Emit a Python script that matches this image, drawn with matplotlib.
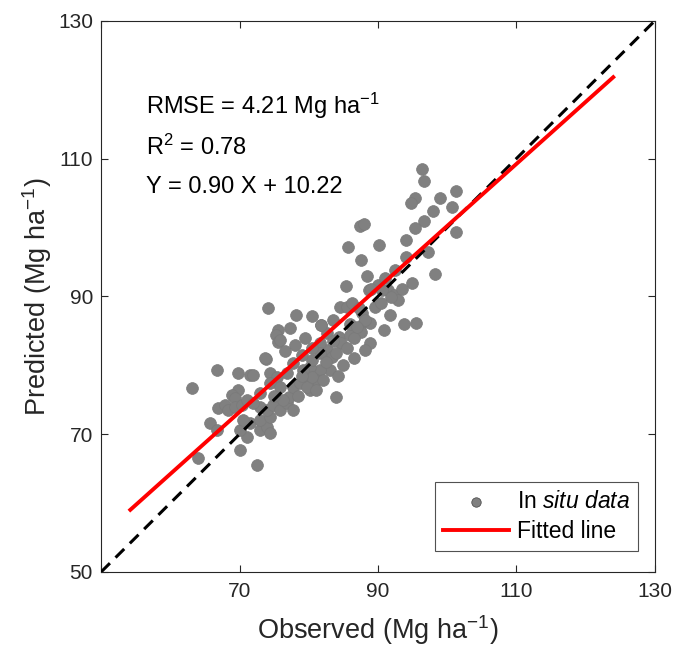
import matplotlib
matplotlib.use("Agg")
import matplotlib.pyplot as plt
import numpy as np

plt.rcParams['font.family'] = ['Liberation Sans', 'DejaVu Sans']
plt.rcParams['mathtext.fontset'] = 'custom'
plt.rcParams['mathtext.rm'] = 'Liberation Sans'
plt.rcParams['mathtext.it'] = 'Liberation Sans:italic'
plt.rcParams['mathtext.bf'] = 'Liberation Sans:bold'

# Observed / predicted values (Mg ha-1)
observed = [
    96.3, 96.6, 101.3, 99.0, 95.4, 94.7, 100.7, 97.9, 101.3, 96.6, 95.4, 87.4, 88.0, 94.0, 90.1, 85.7,
    97.2, 94.0, 87.6, 98.3, 92.5, 88.4, 94.9, 85.4, 90.0, 88.7, 91.4, 92.3, 92.9, 91.9,
    84.5, 85.5, 86.3, 87.3, 87.7, 74.1, 78.2, 80.4, 91.7, 93.7, 95.5, 81.7, 88.0, 88.9, 75.6, 77.3,
    75.3, 87.6, 90.9, 84.4, 85.9,
    83.9, 88.9, 88.1, 84.7, 83.0, 81.6, 80.1, 81.1, 82.0, 79.7, 80.1, 82.6, 83.4, 84.0, 81.6, 82.6, 81.8,
    88.1, 91.0, 90.6,
    63.1, 66.7, 69.7, 71.5, 72.0, 73.8, 75.6, 69.7, 68.9, 69.3, 66.9, 67.9, 68.3, 69.3, 70.3, 65.7,
    66.7, 64.0, 70.0, 72.5, 71.0, 70.0, 71.5, 70.5, 72.9, 73.9, 74.4, 72.9, 74.4, 72.9, 73.9, 74.8,
    75.8, 76.8, 77.7, 77.2, 76.2, 74.4, 75.4, 76.8, 74.4, 75.8, 77.7, 78.7, 79.7, 80.5, 81.1, 79.1,
    77.7, 80.5, 81.6, 75.8, 73.6,
    85.5, 86.5, 85.0, 84.2, 86.0, 83.5, 79.0, 78.0, 76.5, 79.5,
    73.0, 71.0, 72.0, 75.0, 78.5, 79.0, 82.5, 80.5, 83.5, 86.5, 87.0, 89.5, 90.5, 89.0, 93.5,
]
predicted = [
    108.5, 106.7, 105.3, 104.3, 104.3, 103.6, 103.0, 102.4, 99.3, 100.9, 99.9, 100.2, 100.5, 98.2, 97.5, 97.2,
    96.4, 95.7, 95.3, 93.3, 93.8, 93.0, 91.9, 91.5, 91.7, 90.9, 90.9, 90.2, 89.5, 89.9,
    88.5, 88.5, 89.0, 88.3, 87.6, 88.3, 87.3, 87.2, 87.3, 86.0, 86.1, 85.9, 86.3, 86.1, 85.1, 85.4,
    84.4, 84.8, 85.1, 84.1, 84.4,
    75.4, 83.2, 82.2, 83.2, 79.3, 79.3, 79.8, 77.9, 77.9, 77.4, 76.4, 82.2, 81.2, 81.8, 83.2, 84.7, 85.8,
    86.6, 92.7, 90.9,
    76.7, 79.3, 78.9, 78.6, 78.6, 80.9, 83.4, 76.4, 75.7, 75.3, 73.8, 74.2, 73.5, 73.9, 74.2, 71.6,
    70.6, 66.5, 67.7, 65.5, 69.6, 70.6, 71.6, 72.1, 70.6, 71.0, 70.2, 72.1, 72.5, 73.9, 73.5, 74.2,
    73.5, 74.5, 73.5, 75.4, 75.0, 78.9, 78.3, 78.9, 77.4, 76.8, 76.8, 77.4, 76.8, 78.3, 76.4, 79.3,
    80.3, 80.8, 81.8, 83.7, 81.1,
    82.5, 81.0, 80.0, 78.5, 86.0, 86.5, 81.5, 83.0, 82.0, 84.0,
    76.0, 75.0, 74.5, 75.5, 75.5, 78.5, 80.5, 82.5, 83.5, 84.0, 85.5, 88.5, 89.0, 91.0, 91.0,
]

slope = 0.90
intercept = 10.22
fit_x = [54.2, 124.0]
one_to_one = [50, 130]
ticks = [50, 70, 90, 110, 130]
xtick_labels = ['', '70', '90', '110', '130']
ytick_labels = ['50', '70', '90', '110', '130']

fig = plt.figure(figsize=(6.75, 6.52), dpi=100)
ax = fig.add_axes([0.150, 0.123, 0.820, 0.845])

ax.plot(one_to_one, one_to_one, color='black', linestyle=(0, (4, 2.6)), linewidth=2.2, zorder=3)
ax.scatter(observed, predicted, s=72, color='#808080', edgecolors='#7a7a7a', linewidths=0.5,
           zorder=2, label=r'In $\mathit{situ\ data}$')
fx = np.array(fit_x)
ax.plot(fx, slope * fx + intercept, color='#ff0000', linewidth=2.8, zorder=4, label='Fitted line')

ax.set_xlim(50, 130)
ax.set_ylim(50, 130)
ax.set_xticks(ticks)
ax.set_yticks(ticks)
ax.set_xticklabels(xtick_labels)
ax.set_yticklabels(ytick_labels)
ax.tick_params(direction='in', length=5, width=0.8, top=True, right=True,
               labelsize=15, colors='#262626')
ax.tick_params(axis='x', pad=7)
ax.tick_params(axis='y', pad=6)
for sp in ax.spines.values():
    sp.set_color('#262626')
    sp.set_linewidth(0.8)

ax.set_xlabel(r'Observed (Mg ha$^{-1}$)', fontsize=19.5, color='#262626', labelpad=9)
ax.set_ylabel(r'Predicted (Mg ha$^{-1}$)', fontsize=19.5, color='#262626', labelpad=3)

tx = 56.4
ax.text(tx, 117.6, r'RMSE = 4.21 Mg ha$^{-1}$', fontsize=17, va='center', ha='left', color='black')
ax.text(tx, 111.6, r'R$^{2}$ = 0.78', fontsize=17, va='center', ha='left', color='black')
ax.text(tx, 105.9, 'Y = 0.90 X + 10.22', fontsize=17, va='center', ha='left', color='black')

leg = ax.legend(loc='lower right', fontsize=16.5, fancybox=False, frameon=True,
                edgecolor='#262626', borderpad=0.35, handlelength=2.9, handletextpad=0.35,
                labelspacing=0.3, bbox_to_anchor=(0.97, 0.038), borderaxespad=0.0,
                markerscale=0.8)
leg.get_frame().set_linewidth(0.8)
leg.legend_handles[0].set_edgecolor('#404040')

fig.savefig('out.png', dpi=100)
